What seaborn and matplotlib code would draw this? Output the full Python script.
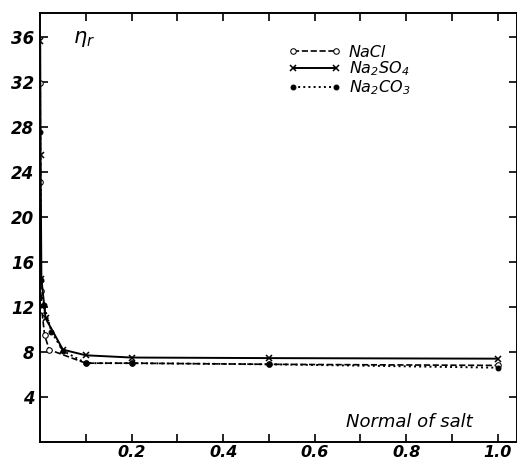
import numpy as np
import pandas as pd
import matplotlib
matplotlib.use("Agg")
import matplotlib.pyplot as plt
import seaborn as sns

nacl_x = [0.0005, 0.001, 0.002, 0.004, 0.01, 0.02, 0.1, 0.2, 0.5, 1.0]
nacl_y = [31.9, 23.1, 13.4, 11.7, 9.5, 8.2, 7.0, 7.0, 6.9, 6.8]

na2so4_x = [0.0004, 0.0012, 0.003, 0.012, 0.05, 0.1, 0.2, 0.5, 1.0]
na2so4_y = [35.6, 25.5, 14.5, 11.0, 8.2, 7.7, 7.5, 7.45, 7.4]

na2co3_x = [0.0008, 0.002, 0.008, 0.025, 0.05, 0.1, 0.2, 0.5, 1.0]
na2co3_y = [27.5, 14.4, 12.2, 9.8, 8.1, 7.0, 7.0, 6.9, 6.6]

x_ticks = [0.1, 0.2, 0.3, 0.4, 0.5, 0.6, 0.7, 0.8, 0.9, 1.0]
x_labels = ["", "0.2", "", "0.4", "", "0.6", "", "0.8", "", "1.0"]
y_ticks = [4, 8, 12, 16, 20, 24, 28, 32, 36]

sns.set_style("ticks")
plt.rcParams['font.family'] = ['DejaVu Sans']
plt.rcParams['font.style'] = 'italic'
plt.rcParams['mathtext.default'] = 'it'
plt.rcParams['text.color'] = 'black'

fig = plt.figure(figsize=(5.17, 4.65), dpi=100)
ax = fig.add_axes([0.0774, 0.0495, 0.9226, 0.9225])

sns.lineplot(x=nacl_x, y=nacl_y, ax=ax, color='black', linestyle='--', lw=1.2,
             marker='o', markersize=4, markerfacecolor='white', markeredgecolor='black',
             sort=False, label='NaCl')
sns.lineplot(x=na2so4_x, y=na2so4_y, ax=ax, color='black', linestyle='-', lw=1.4,
             marker='x', markersize=4.5, markeredgecolor='black', mew=1.1,
             sort=False, label='Na$_2$SO$_4$')
sns.lineplot(x=na2co3_x, y=na2co3_y, ax=ax, color='black', linestyle=':', lw=1.4,
             marker='o', markersize=3.5, markerfacecolor='black', markeredgecolor='black',
             sort=False, label='Na$_2$CO$_3$')

ax.set_xlim(0, 1.042)
ax.set_ylim(0, 38.1)
ax.set_xticks(x_ticks)
ax.set_xticklabels(x_labels)
ax.set_yticks(y_ticks)
ax.tick_params(direction='in', length=6, width=1.2, top=True, right=True,
               labelsize=12, colors='black')
ax.tick_params(axis='x', pad=2, labelsize=11.5)
ax.tick_params(axis='y', pad=4)
for lab in ax.get_xticklabels() + ax.get_yticklabels():
    lab.set_fontweight('bold')
for s in ax.spines.values():
    s.set_linewidth(1.4)
    s.set_color('black')

ax.text(0.07, 0.93, r'$\eta_r$', transform=ax.transAxes, fontsize=15)
ax.text(0.906, 0.026, 'Normal of salt', transform=ax.transAxes, fontsize=13,
        ha='right', va='bottom')
ax.set_xlabel('')
ax.set_ylabel('')

leg = ax.legend(loc='upper left', bbox_to_anchor=(0.49, 0.96), frameon=False,
                handlelength=3.3, fontsize=11.5, labelspacing=0.0, handletextpad=0.5,
                numpoints=2)

fig.savefig('out.png', dpi=100)
